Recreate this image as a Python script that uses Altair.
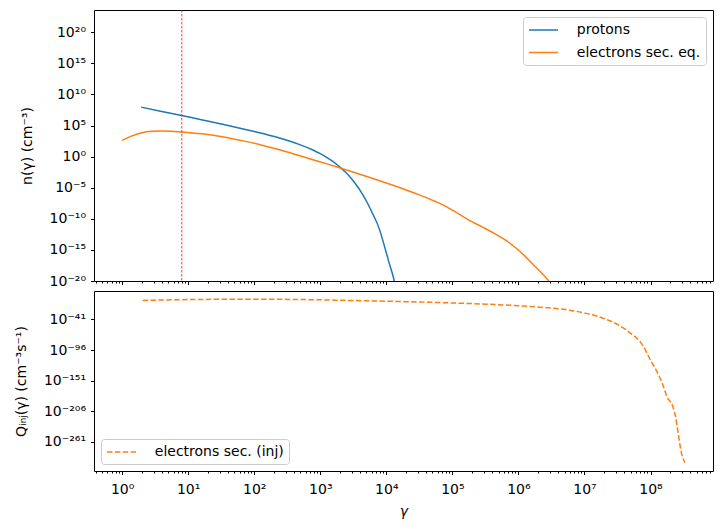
import altair as alt
import pandas as pd

FONT = "DejaVu Sans"
BLUE = "#1f77b4"
ORANGE = "#ff7f0e"

# Proton equilibrium spectrum n(gamma) [cm^-3]
proton_gamma = [1.94, 3.98, 7.94, 15.8, 31.6, 63.1, 100, 158, 240, 339, 500, 760,
                1000, 1250, 1550, 1800, 2040, 2400, 2820, 3300, 4370, 5200, 6000, 7760,
                9200, 11000, 13200, 16000]
proton_n = [9.3e7, 1.9e7, 4.2e6, 8.7e5, 1.8e5, 3.5e4, 1.1e4, 3.3e3, 1.0e3, 3.3e2, 80, 13,
            3.0, 0.78, 0.17, 5.0e-2, 1.6e-2, 3.3e-3, 5.2e-4, 6.8e-5, 8.7e-7, 3.2e-8, 1.4e-9,
            3.2e-12, 7.9e-15, 9.0e-18, 1.0e-20, 1.0e-25]

# Secondary electrons at equilibrium
electron_gamma = [1.0, 1.41, 2.0, 2.82, 3.98, 5.62, 7.94, 12.6, 20.9, 39.8, 70.8, 126,
                  240, 398, 794, 1260, 2040, 3980, 7760, 12600, 22400, 31600, 56200,
                  79400, 1.0e5, 1.78e5, 2.82e5, 4.07e5, 6.31e5, 1.02e6, 1.62e6, 2.88e6, 3.98e6]
electron_n = [4.2e2, 2.2e3, 7.1e3, 1.2e4, 1.4e4, 1.26e4, 9.1e3, 5.9e3, 3.47e3, 1.12e3, 3.16e2, 76,
              12.6, 2.7, 0.30, 6.9e-2, 1.4e-2, 1.5e-3, 1.45e-4, 2.5e-5, 2.8e-6, 7.1e-7, 5.6e-8,
              1.0e-8, 2.5e-9, 6.3e-11, 5.0e-12, 6.3e-13, 4.0e-14, 7.9e-16, 6.3e-18, 1.0e-20, 1.0e-22]

# Injection rate of secondary electrons Q_inj(gamma) [cm^-3 s^-1]
inj_gamma = [2.04, 10, 93, 316, 1000, 3160, 1.0e4, 3.16e4, 1.0e5, 3.24e5, 1.0e6, 1.82e6,
             3.16e6, 5.89e6, 8.32e6, 1.66e7, 3.31e7, 4.68e7, 7.59e7, 1.0e8, 1.26e8, 1.51e8,
             1.78e8, 2.14e8, 2.4e8, 2.63e8, 2.88e8, 3.31e8]
inj_q = [2e-7, 6.3e-6, 4e-5, 1.6e-5, 2.5e-6, 1.3e-7, 8e-9, 3.2e-10, 6.3e-12, 4e-14, 5e-17, 5e-19,
         2.5e-21, 6.3e-25, 5e-28, 5e-37, 5e-52, 4e-64, 5e-88, 4e-115, 3.2e-136, 4e-157,
         2.5e-181, 2.5e-196, 2e-217, 2.5e-247, 2e-277, 1.3e-299]

# Vertical marker on the upper panel
threshold_gamma = [8.0]

X_DOMAIN = [0.375, 8.83e8]
TOP_DOMAIN = [1e-20, 3.9e23]
BOTTOM_DOMAIN = [1e-314, 2.0e10]

SUP = str.maketrans("0123456789-", "⁰¹²³⁴⁵⁶⁷⁸⁹⁻")


def power_label(e):
    return "10" + str(e).translate(SUP)


def label_expr(exps):
    expr = "''"
    for e in reversed(exps):
        expr = f"abs(log(datum.value) / LN10 - ({e})) < 0.01 ? '{power_label(e)}' : {expr}"
    return expr


x_ticks = [m * 10.0 ** k for k in range(-1, 9) for m in range(1, 10)]
x_ticks = [v for v in x_ticks if X_DOMAIN[0] <= v <= X_DOMAIN[1]]
major_test = "abs(log(datum.value) / LN10 - round(log(datum.value) / LN10)) < 0.001"
x_tick_size = {"condition": {"test": major_test, "value": 3.5}, "value": 2}

top_exps = list(range(-20, 21, 5))
bottom_exps = [-41, -96, -151, -206, -261]

x_scale = alt.Scale(type="log", domain=X_DOMAIN, nice=False)
x_axis_top = alt.Axis(values=x_ticks, labels=False, labelPadding=0, title=None,
                      tickSize=x_tick_size)
x_axis_bottom = alt.Axis(values=x_ticks, labelExpr=label_expr(list(range(0, 9))),
                         labelOverlap=False, title="γ", titleFontStyle="italic",
                         tickSize=x_tick_size, labelPadding=8, titlePadding=8)

# legend line handle: a long horizontal stroke
handle = "M-2.07,0H2.07"

top_df = pd.concat([
    pd.DataFrame({"gamma": proton_gamma, "n": proton_n, "series": "protons"}),
    pd.DataFrame({"gamma": electron_gamma, "n": electron_n, "series": "electrons sec. eq."}),
])

top_lines = alt.Chart(top_df).mark_line(strokeWidth=1.5, clip=True, interpolate="monotone").encode(
    x=alt.X("gamma:Q", scale=x_scale, axis=x_axis_top),
    y=alt.Y("n:Q", scale=alt.Scale(type="log", domain=TOP_DOMAIN, nice=False),
            axis=alt.Axis(values=[10.0 ** e for e in top_exps], labelExpr=label_expr(top_exps),
                          labelOverlap=False, title="n(γ)   (cm⁻³)", tickSize=3.5,
                          labelPadding=5, titlePadding=15)),
    color=alt.Color("series:N",
                    scale=alt.Scale(domain=["protons", "electrons sec. eq."], range=[BLUE, ORANGE]),
                    legend=alt.Legend(orient="top-right", symbolType=handle), title=None),
)

marker = alt.Chart(pd.DataFrame({"gamma": threshold_gamma})).mark_rule(
    color="red", strokeDash=[2.5, 1.5], strokeWidth=0.8
).encode(x=alt.X("gamma:Q", scale=x_scale, axis=x_axis_top))

top = alt.layer(top_lines, marker).properties(width=619, height=271)

inj_df = pd.DataFrame({"gamma": inj_gamma, "q": inj_q, "series": "electrons sec. (inj)"})

bottom = alt.Chart(inj_df).mark_line(
    strokeWidth=1.5, strokeDash=[5.5, 2.4], clip=True, interpolate="monotone"
).encode(
    x=alt.X("gamma:Q", scale=x_scale, axis=x_axis_bottom),
    y=alt.Y("q:Q", scale=alt.Scale(type="log", domain=BOTTOM_DOMAIN, nice=False),
            axis=alt.Axis(values=[10.0 ** e for e in bottom_exps], labelExpr=label_expr(bottom_exps),
                          labelOverlap=False, title="Qᵢₙⱼ(γ)   (cm⁻³s⁻¹)", tickSize=3.5,
                          labelPadding=5, titlePadding=15)),
    color=alt.Color("series:N",
                    scale=alt.Scale(domain=["electrons sec. (inj)"], range=[ORANGE]),
                    legend=alt.Legend(orient="bottom-left", symbolType=handle,
                                      symbolDash=[5.5, 2.4]), title=None),
).properties(width=619, height=180)

chart = (
    alt.vconcat(top, bottom, spacing=1)
    .resolve_scale(color="independent")
    .resolve_legend(color="independent")
    .properties(padding={"left": 13, "top": 9, "right": 5, "bottom": 5})
    .configure_view(stroke="black", strokeWidth=1)
    .configure_axis(
        domain=False, grid=False, labelFont=FONT, labelFontSize=14, labelColor="black",
        titleFont=FONT, titleFontSize=14, titleFontWeight="normal", titleColor="black",
        tickColor="black", tickWidth=1,
    )
    .configure_legend(
        labelFont=FONT, labelFontSize=14, labelColor="black", strokeColor="#cccccc",
        fillColor="rgba(255,255,255,0.8)", padding=5, cornerRadius=3,
        symbolStrokeWidth=1.5, symbolSize=196, symbolOffset=7.5, rowPadding=7.5,
        labelOffset=25.3, offset=7,
    )
)

chart.save("out.html", embed_options={"renderer": "svg", "actions": False})
